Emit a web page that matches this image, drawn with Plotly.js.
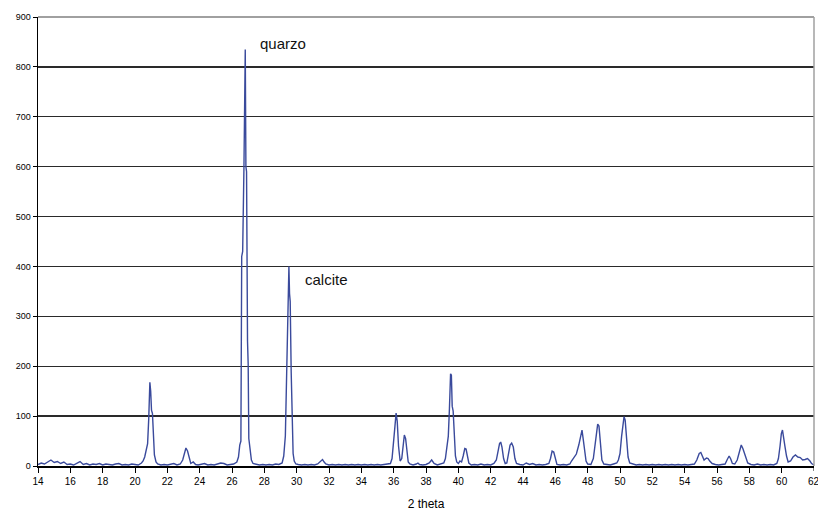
<!DOCTYPE html>
<html>
<head>
<meta charset="utf-8">
<script src="https://cdn.plot.ly/plotly-3.0.1.min.js"></script>
<style>html,body{margin:0;padding:0;background:#fff;}#chart{width:818px;height:513px;}</style>
</head>
<body>
<div id="chart"></div>
<script>
// 2-theta positions (degrees)
const twoTheta = [
14.0,14.2,14.4,14.6,14.8,15.0,15.2,15.4,15.6,15.8,16.0,16.2,16.4,16.6,16.8,17.0,17.2,17.4,17.6,17.8,18.0,18.2,18.4,18.6,18.8,19.0,19.2,19.4,19.6,19.8,20.0,20.2,20.4,
20.5,20.6,20.7,20.78,20.85,20.92,20.97,21.02,21.08,21.14,21.2,21.3,21.4,21.6,21.8,22.0,22.2,22.4,22.6,22.8,
22.95,23.05,23.15,23.25,23.35,23.45,23.6,23.75,23.9,24.1,24.3,24.5,24.7,24.9,25.1,25.3,25.5,25.7,25.9,26.1,26.3,
26.4,26.48,26.55,26.6,26.66,26.74,26.78,26.82,26.86,26.9,26.96,27.0,27.04,27.1,27.2,27.3,27.5,27.7,27.9,28.1,28.3,28.5,28.7,28.9,29.1,
29.2,29.3,29.37,29.42,29.48,29.52,29.56,29.6,29.66,29.72,29.78,29.85,29.95,30.1,30.3,30.5,30.7,30.9,31.1,31.3,31.5,31.6,31.7,31.8,32.0,32.2,32.4,32.6,32.8,33.0,33.2,33.4,33.6,33.8,34.0,34.2,34.4,34.6,34.8,35.0,35.2,35.4,35.6,35.8,
35.9,36.0,36.08,36.15,36.22,36.3,36.4,36.5,36.58,36.66,36.74,36.82,36.9,37.0,37.2,37.4,37.5,37.6,37.8,38.0,38.2,38.35,38.5,38.7,38.9,39.1,
39.2,39.3,39.38,39.45,39.52,39.57,39.62,39.68,39.74,39.82,39.9,40.0,40.1,40.2,40.3,40.4,40.48,40.56,40.65,40.8,41.0,41.2,41.4,41.6,41.8,42.0,42.2,
42.35,42.45,42.55,42.62,42.7,42.8,42.9,43.0,43.1,43.2,43.3,43.4,43.5,43.6,43.8,44.0,44.2,44.4,44.6,44.8,45.0,45.2,45.4,45.6,
45.7,45.8,45.9,46.0,46.1,46.3,46.5,46.7,46.9,
47.0,47.15,47.3,47.45,47.55,47.65,47.72,47.8,47.9,48.0,48.2,48.35,48.45,48.55,48.62,48.7,48.78,48.88,49.0,49.2,49.4,49.6,49.8,
49.9,50.0,50.1,50.18,50.25,50.32,50.4,50.5,50.6,50.8,51.0,51.2,51.4,51.6,51.8,52.0,52.2,52.4,52.6,52.8,53.0,53.2,53.4,53.6,53.8,54.0,54.2,54.4,54.6,
54.75,54.9,55.0,55.1,55.2,55.35,55.45,55.55,55.7,55.9,56.1,56.3,56.5,56.65,56.75,56.85,56.95,57.1,57.25,57.4,57.5,57.6,57.7,57.8,57.9,58.1,58.3,58.5,58.7,58.9,59.1,59.3,59.5,59.7,
59.8,59.9,59.98,60.05,60.12,60.2,60.3,60.4,60.55,60.7,60.85,61.0,61.15,61.3,61.45,61.6,61.75,61.85,62.0
];
// intensity (counts)
const intensity = [
3,6,4,8,12,7,9,5,8,3,4,2,6,9,3,5,2,4,3,5,2,4,3,2,4,5,2,3,2,4,3,2,6,
10,18,38,45,95,168,150,112,105,60,22,8,4,2,3,2,3,5,2,4,
12,25,36,30,14,5,8,3,2,3,5,2,3,2,4,6,5,2,3,4,8,
18,42,50,420,430,600,832,835,600,590,250,205,55,40,12,5,3,2,3,2,3,2,4,3,6,
20,60,190,205,355,400,345,330,190,80,25,10,4,3,2,3,2,3,2,4,9,13,8,4,2,3,2,3,2,3,2,3,2,3,2,3,2,3,2,3,2,3,3,5,
15,45,80,106,90,40,10,15,45,62,55,25,8,4,2,4,6,3,2,3,6,12,5,2,4,6,
15,40,60,115,185,182,120,110,60,20,8,5,10,8,20,35,34,18,6,2,3,2,4,2,3,2,5,
12,30,45,48,38,15,5,6,25,42,46,38,15,5,3,2,6,3,5,2,3,2,3,5,
15,30,28,12,3,2,3,2,4,
10,18,24,42,60,72,55,30,10,4,3,15,40,70,84,80,40,12,4,3,2,4,6,
12,25,60,88,99,92,55,18,6,4,2,3,2,3,2,3,2,3,2,3,2,3,2,3,2,3,2,3,4,
12,25,27,18,12,16,15,10,5,3,2,3,4,14,20,14,5,4,12,30,42,35,25,15,6,3,2,4,2,3,2,3,2,5,
15,40,65,72,60,40,20,8,10,18,22,18,17,12,13,15,10,5,2
];
const xTicks = [14,16,18,20,22,24,26,28,30,32,34,36,38,40,42,44,46,48,50,52,54,56,58,60,62];
const yTicks = [0,100,200,300,400,500,600,700,800,900];
const peakLabels = ["quarzo","calcite"];
const peakLabelX = [27.6,30.4];
const peakLabelY = [846,373];

const trace = {
  x: twoTheta, y: intensity, type: 'scatter', mode: 'lines',
  line: {color: '#3a4a9c', width: 1.4}, hoverinfo: 'x+y', showlegend: false
};

const font = {family: '"Liberation Sans", Arial, sans-serif', color: '#000'};
const lastTick = xTicks[xTicks.length - 1];

const layout = {
  width: 818, height: 513,
  margin: {l: 38, r: 4, t: 17, b: 47, pad: 0},
  paper_bgcolor: '#fff', plot_bgcolor: '#fff',
  font: font,
  xaxis: {
    range: [14, 62], tickvals: xTicks.slice(0, -1), ticktext: xTicks.slice(0, -1).map(String),
    showgrid: false, zeroline: false, showline: true, linecolor: '#000', linewidth: 1.5,
    ticks: 'outside', ticklen: 5, tickcolor: '#000', tickwidth: 1,
    tickfont: {family: font.family, size: 10, color: '#000'},
    title: {text: '2 theta', font: {family: font.family, size: 12, color: '#000'}, standoff: 14}
  },
  yaxis: {
    range: [0, 900], tickvals: yTicks, ticktext: yTicks.map(String),
    showgrid: true, gridcolor: '#2a2a2a', gridwidth: 1.3,
    zeroline: false, showline: true, linecolor: '#000', linewidth: 1.5,
    ticks: 'outside', ticklen: 4, tickcolor: '#000', tickwidth: 1,
    tickfont: {family: font.family, size: 9, color: '#000'}
  },
  shapes: [
    {type: 'line', xref: 'paper', yref: 'paper', x0: 0, x1: 1, y0: 1, y1: 1, line: {color: '#a0a0a0', width: 2}, layer: 'above'},
    {type: 'line', xref: 'paper', yref: 'paper', x0: 1, x1: 1, y0: 0, y1: 1, line: {color: '#a0a0a0', width: 1.5}, layer: 'above'},
    {type: 'line', xref: 'x', yref: 'paper', x0: lastTick, x1: lastTick, y0: 0, y1: -0.011, line: {color: '#000', width: 1}}
  ],
  annotations: peakLabels.map((t, i) => ({
    x: peakLabelX[i], y: peakLabelY[i], xref: 'x', yref: 'y', text: t, showarrow: false,
    xanchor: 'left', yanchor: 'middle', font: {family: font.family, size: 15, color: '#111'}
  })).concat([{
    x: lastTick, y: 0, xref: 'x', yref: 'paper', yshift: -8, text: String(lastTick), showarrow: false,
    xanchor: 'center', yanchor: 'top', font: {family: font.family, size: 10, color: '#000'}
  }])
};

Plotly.newPlot('chart', [trace], layout, {staticPlot: true, displayModeBar: false});
</script>
</body>
</html>
